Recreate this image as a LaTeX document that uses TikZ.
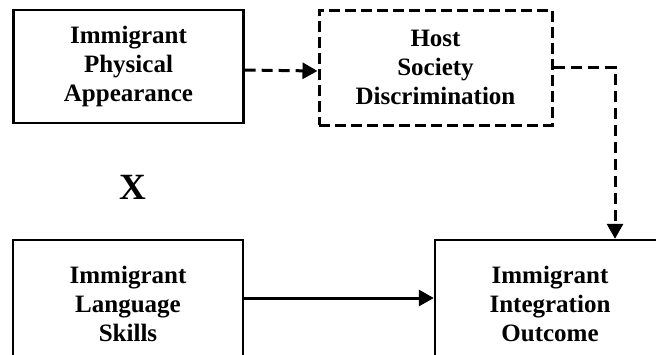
\documentclass[tikz,border=0pt]{standalone}
\usepackage{fontspec}
\setmainfont{Liberation Serif}
\usetikzlibrary{arrows.meta}

\tikzset{
  box/.style={draw=black, line width=2.4pt, rectangle, minimum width=230pt,
    align=center, font=\bfseries\fontsize{25}{29}\selectfont, inner sep=0pt},
  dbox/.style={box, line width=3pt, dash pattern=on 11pt off 5pt},
  link/.style={line width=3pt, -{Triangle[length=15pt,width=16pt]}},
  dlink/.style={link, dash pattern=on 11pt off 6pt},
}

\begin{document}
\begin{tikzpicture}[x=1pt, y=-1pt]
  \useasboundingbox (0,0) rectangle (656,354);
  \clip (0,0) rectangle (656,354);

  % predictor boxes
  \node[box, minimum height=113pt] (phys) at (128.5,66.5)
    {Immigrant\\Physical\\Appearance};
  \node[box, minimum height=127pt] (lang) at (128,303.5)
    {Immigrant\\Language\\Skills};

  % mediator and outcome
  \node[dbox, minimum width=233pt, minimum height=115pt] (host) at (435.5,67.5)
    {Host\\Society\\Discrimination};
  \node[box, minimum height=127pt] (outc) at (550,303.5)
    {Immigrant\\Integration\\Outcome};

  % interaction sign
  \node[font=\bfseries\fontsize{37}{37}\selectfont] (times) at (133,187) {X};

  % paths
  \draw[dlink] ([yshift=-3.5pt]phys.east) -- ([yshift=-3.5pt]host.west);
  \draw[dlink] (host.east) -| ([xshift=65pt]outc.north);
  \draw[link] ([yshift=5.5pt]lang.east) -- ([yshift=5.5pt]outc.west);
\end{tikzpicture}
\end{document}
